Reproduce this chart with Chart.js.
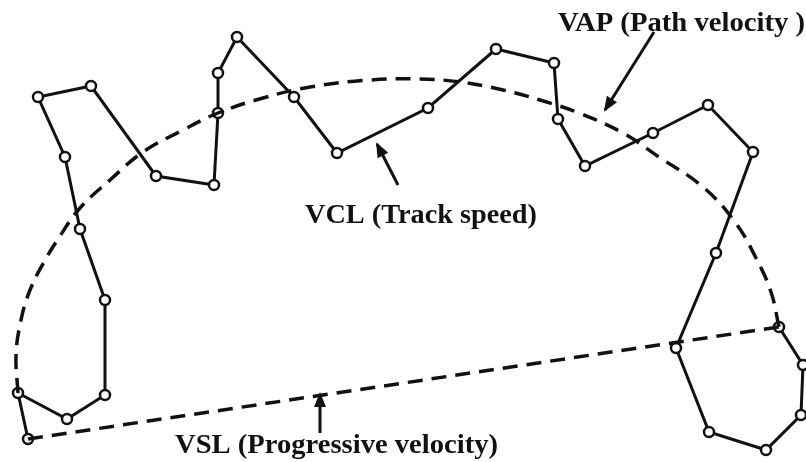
<!DOCTYPE html>
<html>
<head>
<meta charset="utf-8">
<script src="https://cdn.jsdelivr.net/npm/chart.js@4.4.1/dist/chart.umd.min.js"></script>
<style>
  html, body { margin: 0; padding: 0; background: #fff; }
  #wrap { width: 806px; height: 462px; position: relative; }
</style>
</head>
<body>
<div id="wrap"><canvas id="chart"></canvas></div>
<script>
// track of the cell head, in image units (x right, y down)
const vclX = [28, 18, 67, 105, 105, 80, 65, 38, 91, 156, 214, 218, 218, 237, 294, 337, 428, 496, 554, 558, 585, 653, 708, 753, 716, 676, 709, 766, 801, 803, 779];
const vclY = [439, 393, 419, 395, 300, 229, 157, 97, 86, 176, 185, 113, 73, 37, 97, 153, 108, 49, 63, 119, 166, 133, 105, 152, 253, 348, 432, 450, 415, 365, 327];

// smoothed average path
const vapX = [18, 16, 21, 30, 44, 60, 80, 110, 143, 183, 218, 263, 310, 370, 420, 460, 503, 540, 579, 623, 659, 703, 735, 756, 771, 779];
const vapY = [393, 355, 320, 290, 262, 236, 208, 180, 152, 130, 113, 98, 87, 80, 79, 82, 90, 100, 113, 133, 157, 187, 222, 258, 292, 327];

// straight line first -> last point
const vslX = [28, 779];
const vslY = [439, 327];

// pointer arrows (tail, tip)
const arrowVcl = [[398, 185], [377, 144]];
const arrowVap = [[654, 32], [605, 110]];
const arrowVsl = [[320, 433], [320, 394]];

const labelText = ['VAP (Path velocity )', 'VCL (Track speed)', 'VSL (Progressive velocity)'];

const toPts = (xs, ys) => xs.map((x, i) => ({ x: x, y: ys[i] }));
const arrPts = (a) => a.map(p => ({ x: p[0], y: p[1] }));

const labelPos = [
    { x: 558, y: 31, w: 247 },
    { x: 305, y: 223, w: 232 },
    { x: 175, y: 453, w: 323 }
];

const lineStyle = { showLine: true, borderColor: '#111', pointRadius: 0, clip: false, fill: false };

const labelsPlugin = {
    id: 'labels',
    afterDatasetsDraw: (chart) => {
        const ctx = chart.ctx;
        const xs = chart.scales.x, ys = chart.scales.y;
        // arrow heads at the tip of each pointer dataset
        chart.data.datasets.forEach((ds, i) => {
            if (!ds.arrow) return;
            const pts = chart.getDatasetMeta(i).data;
            const a = pts[pts.length - 2], b = pts[pts.length - 1];
            const ang = Math.atan2(b.y - a.y, b.x - a.x);
            ctx.save();
            ctx.translate(b.x, b.y);
            ctx.rotate(ang);
            ctx.fillStyle = '#111';
            ctx.beginPath();
            ctx.moveTo(2, 0);
            ctx.lineTo(-13, -6);
            ctx.lineTo(-13, 6);
            ctx.closePath();
            ctx.fill();
            ctx.restore();
        });
        ctx.save();
        ctx.fillStyle = '#111';
        ctx.font = 'bold 28px "Liberation Serif", "Times New Roman", serif';
        ctx.textBaseline = 'alphabetic';
        labelText.forEach((t, i) => {
            const p = labelPos[i];
            const px = xs.getPixelForValue(p.x), py = ys.getPixelForValue(p.y);
            const m = ctx.measureText(t).width;
            ctx.save();
            ctx.translate(px, py);
            ctx.scale(p.w / m, 1);
            ctx.fillText(t, 0, 0);
            ctx.restore();
        });
        ctx.restore();
    }
};

new Chart(document.getElementById('chart'), {
    type: 'scatter',
    data: {
        datasets: [
            Object.assign({ data: toPts(vapX, vapY), borderWidth: 3.5, borderDash: [15, 9], tension: 0.4 }, lineStyle),
            Object.assign({ data: toPts(vslX, vslY), borderWidth: 3.5, borderDash: [15, 9] }, lineStyle),
            Object.assign({ data: arrPts(arrowVcl), borderWidth: 3, arrow: true }, lineStyle),
            Object.assign({ data: arrPts(arrowVap), borderWidth: 3, arrow: true }, lineStyle),
            Object.assign({ data: arrPts(arrowVsl), borderWidth: 3, arrow: true }, lineStyle),
            {
                data: toPts(vclX, vclY),
                showLine: true,
                borderColor: '#111',
                borderWidth: 3,
                pointRadius: 5,
                pointBorderWidth: 2.5,
                pointBackgroundColor: '#fff',
                pointBorderColor: '#111',
                clip: false
            }
        ]
    },
    plugins: [labelsPlugin],
    options: {
        animation: false,
        responsive: true,
        maintainAspectRatio: false,
        layout: { padding: 0, autoPadding: false },
        scales: {
            x: { type: 'linear', min: 0, max: 806, display: false },
            y: { type: 'linear', min: 0, max: 462, reverse: true, display: false }
        },
        plugins: {
            legend: { display: false },
            tooltip: { enabled: false }
        }
    }
});
</script>
</body>
</html>
